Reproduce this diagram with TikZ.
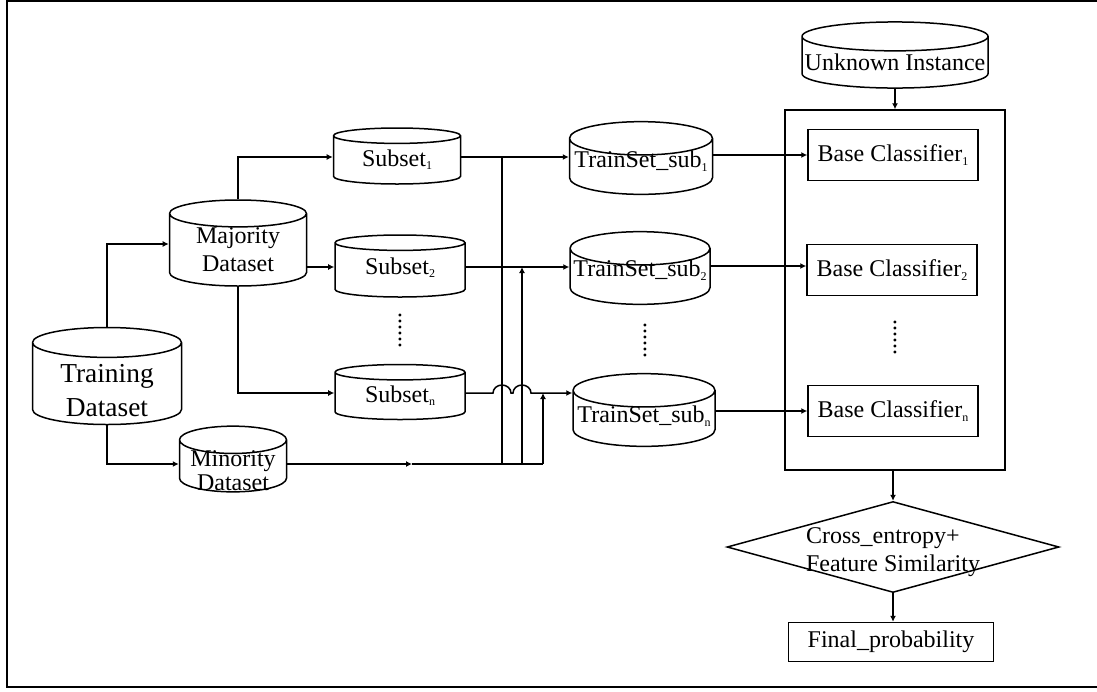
\documentclass[tikz,border=0pt]{standalone}
\usepackage{fontspec}
\setmainfont{Liberation Serif}
\usetikzlibrary{arrows.meta,positioning,shapes.geometric}
\newcommand\ix[1]{\raisebox{-.3ex}{\fontsize{6}{6}\selectfont #1}}
\newcommand\stk[1]{\begin{tabular}{@{}c@{}}#1\end{tabular}}

\begin{document}
\begin{tikzpicture}[x=0.5pt,y=-0.5pt,line width=0.75pt,
  db/.style={cylinder,shape border rotate=90,draw,aspect=0.32,inner sep=0pt,anchor=shape center,
    font=\fontsize{12}{14}\selectfont},
  one/.style={text height=8.5pt,text depth=2.5pt},
  clf/.style={draw,minimum width=85pt,minimum height=25.5pt,inner sep=0pt,font=\fontsize{12}{14}\selectfont},
  arr/.style={-{Latex[length=3pt,width=3pt]}},
  vdots/.style={inner sep=0pt,font=\fontsize{12}{14}\selectfont}]
\useasboundingbox (0,0) rectangle (1097,691);
\draw (1097,1) -- (7,1) -- (7,687) -- (1097,687); %% frame

% data sets
\node[db,minimum width=74.5pt,minimum height=48.5pt,font=\fontsize{13.7}{17}\selectfont] (train) at (107,376)
  {\raisebox{-8pt}[8pt][8pt]{\stk{Training\\Dataset}}};
\node[db,minimum width=68.5pt,minimum height=43pt] (major) at (238,243)
  {\raisebox{-4pt}[6pt][6pt]{\stk{Majority\\Dataset}}};
\node[db,minimum width=53.5pt,minimum height=30pt,font=\fontsize{12}{12}\selectfont] (minor) at (233,459)
  {\raisebox{-6.5pt}[6pt][6pt]{\stk{Minority\\Dataset}}};

% subsets
\node[db,one,aspect=0.22,minimum width=63.5pt,minimum height=28pt] (sub1) at (397,156) {Subset\ix{1}};
\node[db,one,aspect=0.22,minimum width=65pt,minimum height=31pt] (sub2) at (400,266) {\raisebox{1pt}{Subset\ix{2}}};
\node[db,one,aspect=0.22,minimum width=65pt,minimum height=27.5pt] (subn) at (400,392) {Subset\ix{n}};
\node[vdots] (dots1) at (400,330) {\rotatebox{90}{......}};

% train sets
\node[db,one,aspect=0.25,minimum width=71.5pt,minimum height=34pt] (ts1) at (641,158) {\raisebox{2.5pt}{TrainSet\_sub\ix{1}}};
\node[db,one,aspect=0.25,minimum width=70pt,minimum height=35pt] (ts2) at (640,268) {\raisebox{3pt}{TrainSet\_sub\ix{2}}};
\node[db,one,aspect=0.25,minimum width=71pt,minimum height=35pt] (tsn) at (644,410) {\raisebox{1pt}{TrainSet\_sub\ix{n}}};
\node[vdots] (dots2) at (645,340) {\rotatebox{90}{......}};

% classifiers
\node[db,one,aspect=0.16,minimum width=93pt,minimum height=30pt] (unk) at (895,55) {\raisebox{-1pt}{Unknown Instance}};
\node[draw,minimum width=110pt,minimum height=180pt] (panel) at (895,290) {};
\node[clf] (bc1) at (893,155) {Base Classifier\ix{1}};
\node[clf] (bc2) at (892,270) {Base Classifier\ix{2}};
\node[clf] (bcn) at (893,411) {Base Classifier\ix{n}};
\node[vdots] (dots3) at (895,337) {\rotatebox{90}{......}};
\node[diamond,draw,minimum width=166pt,minimum height=45.5pt,inner sep=0pt,
  label={[align=left,font=\fontsize{12}{14}\selectfont,yshift=-2.5pt]center:Cross\_entropy+\\Feature Similarity}] (dec) at (893,547) {};
\node[draw,minimum width=102.5pt,minimum height=19.5pt,inner sep=0pt,font=\fontsize{12}{14}\selectfont] (fin) at (891,642) {Final\_probability};

% rows of the connectors
\coordinate (yMaj) at (0,244);
\coordinate (yS1) at (0,157);
\coordinate (yS2) at (0,267);
\coordinate (ySn) at (0,393);
\coordinate (yB2) at (0,266);
% minority bus
\coordinate (m0) at (412,464);
\coordinate (b1) at (502,464);
\coordinate (b2) at (522,464);
\coordinate (b3) at (543,464);

\draw[arr] (train.north) |- (major.west |- yMaj);
\draw[arr] (train.south) |- (minor.west |- m0);
\draw[arr] (major.north) |- (sub1.west |- yS1);
\draw[arr] (major.east |- yS2) -- (sub2.west |- yS2);
\draw[arr] (major.south) |- (subn.west |- ySn);

\draw[arr] (minor.east |- m0) -- (m0);
\draw (m0) -- (b3);
\draw (b1) -- (b1 |- yS1);
\draw[arr] (b2) -- (b2 |- yS2);
\draw[arr] (b3) -- (b3 |- ySn);

\draw[arr] (sub1.east |- yS1) -- (ts1.west |- yS1);
\draw[arr] (sub2.east |- yS2) -- (ts2.west |- yS2);
\draw[arr] (subn.east |- ySn) -- (493,393) arc[start angle=180,end angle=360,x radius=9,y radius=8]
  -- (513,393) arc[start angle=180,end angle=360,x radius=9,y radius=8] -- (tsn.west |- ySn);

\draw[arr] (ts1.east |- bc1.west) -- (bc1.west);
\draw[arr] (ts2.east |- yB2) -- (bc2.west |- yB2);
\draw[arr] (tsn.east |- bcn.west) -- (bcn.west);

\draw[arr] (unk.south) -- (unk.south |- panel.north);
\draw[arr] (dec.north |- panel.south) -- (dec.north);
\draw[arr] (dec.south) -- (dec.south |- fin.north);
\end{tikzpicture}
\end{document}
